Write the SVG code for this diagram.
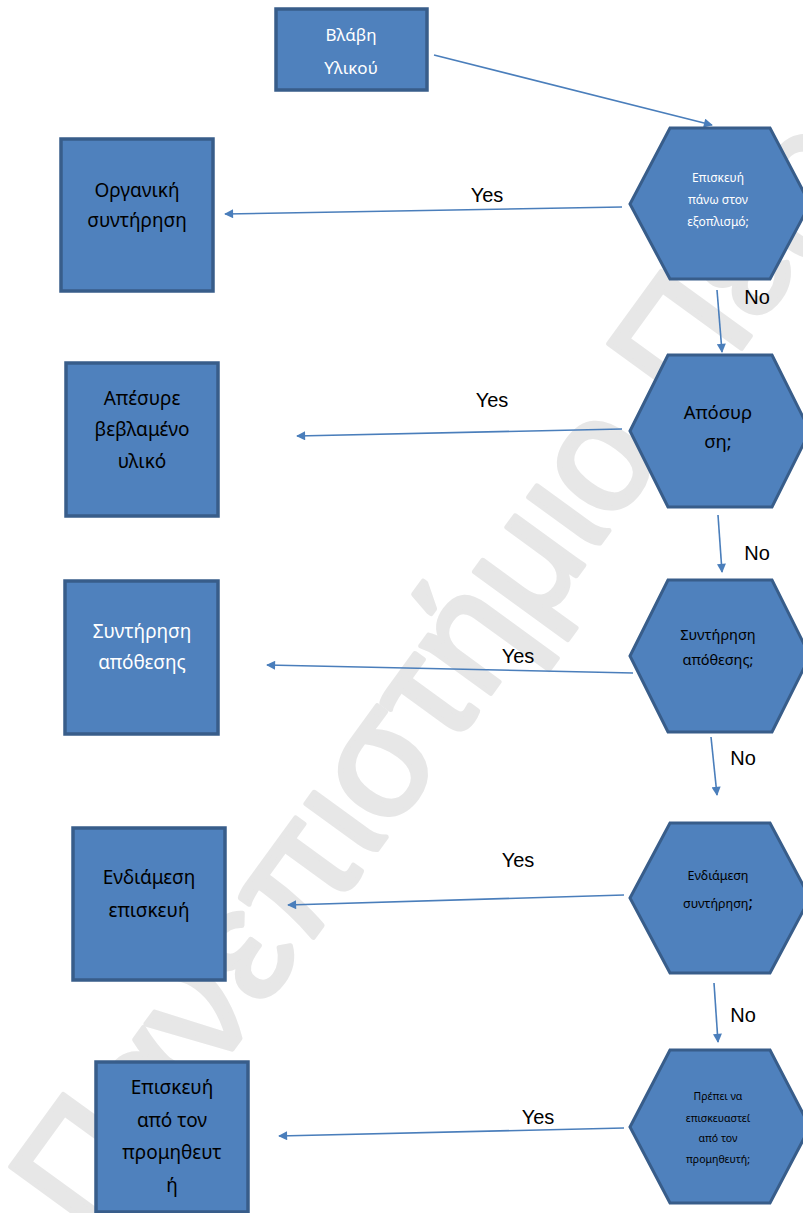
<svg xmlns="http://www.w3.org/2000/svg" width="803" height="1213" viewBox="0 0 803 1213">
  <style>
    .box { fill: #4f81bd; stroke: #385d8a; stroke-width: 3.5; }
    .hex { fill: #4f81bd; stroke: #385d8a; stroke-width: 3; stroke-linejoin: miter; }
    .t { font-family: "Noto Sans", "Open Sans", sans-serif; text-anchor: middle; }
    .dk { fill: #000000; }
    .lt { fill: #ffffff; }
    .lbl { font-family: "Liberation Sans", Arial, sans-serif; font-size: 20px; fill: #000000; text-anchor: middle; }
    .wire { fill: none; stroke: #4a7ebb; stroke-width: 1.6; marker-end: url(#arrow); }
    .mark { font-family: "Liberation Sans", Arial, sans-serif; font-size: 160px; fill: #e7e7e7; stroke: #e7e7e7; stroke-width: 5; stroke-linejoin: round; }
  </style>
  <defs>
    <marker id="arrow" viewBox="0 0 10 10" refX="9" refY="5" markerWidth="10" markerHeight="9" markerUnits="userSpaceOnUse" orient="auto">
      <path d="M0,0 L10,5 L0,10 z" fill="#4a7ebb"/>
    </marker>
  </defs>

  <rect width="803" height="1213" fill="#ffffff"/>

  <!-- background watermark -->
  <text class="mark" transform="translate(92,1242) rotate(-54)">Πανεπιστήμιο Πειραιώς</text>

  <!-- connectors -->
  <g id="connectors">
    <line class="wire" x1="434" y1="55" x2="712" y2="125"/>
    <line class="wire" x1="622" y1="207" x2="225" y2="214"/>
    <line class="wire" x1="717" y1="290" x2="722" y2="352"/>
    <line class="wire" x1="622" y1="429" x2="297" y2="436"/>
    <line class="wire" x1="718" y1="515" x2="722" y2="572"/>
    <line class="wire" x1="633" y1="673" x2="267" y2="665"/>
    <line class="wire" x1="711" y1="737" x2="717" y2="795"/>
    <line class="wire" x1="624" y1="895" x2="288" y2="905"/>
    <line class="wire" x1="714" y1="983" x2="718" y2="1042"/>
    <line class="wire" x1="624" y1="1128" x2="279" y2="1136"/>
    <text class="lbl" x="487" y="202">Yes</text>
    <text class="lbl" x="757" y="304">No</text>
    <text class="lbl" x="492" y="407">Yes</text>
    <text class="lbl" x="757" y="560">No</text>
    <text class="lbl" x="518" y="663">Yes</text>
    <text class="lbl" x="743" y="765">No</text>
    <text class="lbl" x="518" y="867">Yes</text>
    <text class="lbl" x="743" y="1022">No</text>
    <text class="lbl" x="538" y="1124">Yes</text>
  </g>

  <!-- start -->
  <g id="start">
    <rect class="box" x="276" y="9" width="151" height="81"/>
    <text class="t lt" font-size="17" x="351" y="41">Βλάβη</text>
    <text class="t lt" font-size="17" x="351" y="74">Υλικού</text>
  </g>

  <!-- decisions -->
  <g id="q1">
    <polygon class="hex" points="630,204 670,128 770,128 810,204 770,279 670,279"/>
    <text class="t lt" font-size="12" x="718" y="182">Επισκευή</text>
    <text class="t lt" font-size="12" x="718" y="204">πάνω στον</text>
    <text class="t lt" font-size="12" x="718" y="226">εξοπλισμό;</text>
  </g>
  <g id="q2">
    <polygon class="hex" points="630,431 668,355 772,355 810,431 772,507 668,507"/>
    <text class="t dk" font-size="18.5" x="718" y="419">Απόσυρ</text>
    <text class="t dk" font-size="18.5" x="718" y="448">ση;</text>
  </g>
  <g id="q3">
    <polygon class="hex" points="630,656 668,580 772,580 810,656 772,732 668,732"/>
    <text class="t dk" font-size="14.5" x="718" y="640">Συντήρηση</text>
    <text class="t dk" font-size="14.5" x="718" y="665">απόθεσης;</text>
  </g>
  <g id="q4">
    <polygon class="hex" points="630,898 670,823 770,823 810,898 770,973 670,973"/>
    <text class="t dk" font-size="12.5" x="718" y="880">Ενδιάμεση</text>
    <text class="t dk" font-size="12.5" x="718" y="908">συντήρηση<tspan font-size="17">;</tspan></text>
  </g>
  <g id="q5">
    <polygon class="hex" points="630,1127 670,1050 770,1050 810,1127 770,1203 670,1203"/>
    <text class="t dk" font-size="10.5" x="718" y="1100">Πρέπει να</text>
    <text class="t dk" font-size="10.5" x="718" y="1122">επισκευαστεί</text>
    <text class="t dk" font-size="10.5" x="718" y="1142">από τον</text>
    <text class="t dk" font-size="10.5" x="718" y="1163">προμηθευτή;</text>
  </g>

  <!-- outcomes -->
  <g id="organic">
    <rect class="box" x="61" y="139" width="152" height="152"/>
    <text class="t dk" font-size="19" x="137" y="197">Οργανική</text>
    <text class="t dk" font-size="19" x="137" y="227">συντήρηση</text>
  </g>
  <g id="withdraw">
    <rect class="box" x="66" y="363" width="152" height="153"/>
    <text class="t dk" font-size="19" x="142" y="405">Απέσυρε</text>
    <text class="t dk" font-size="19" x="142" y="436">βεβλαμένο</text>
    <text class="t dk" font-size="19" x="142" y="468">υλικό</text>
  </g>
  <g id="storage">
    <rect class="box" x="65" y="581" width="153" height="153"/>
    <text class="t lt" font-size="19" x="142" y="638">Συντήρηση</text>
    <text class="t lt" font-size="19" x="142" y="669">απόθεσης</text>
  </g>
  <g id="interim">
    <rect class="box" x="73" y="828" width="152" height="152"/>
    <text class="t dk" font-size="19" x="149" y="884">Ενδιάμεση</text>
    <text class="t dk" font-size="19" x="149" y="917">επισκευή</text>
  </g>
  <g id="supplier">
    <rect class="box" x="96" y="1062" width="152" height="150"/>
    <text class="t dk" font-size="19" x="172" y="1094">Επισκευή</text>
    <text class="t dk" font-size="19" x="172" y="1127">από τον</text>
    <text class="t dk" font-size="19" x="172" y="1159">προμηθευτ</text>
    <text class="t dk" font-size="19" x="172" y="1192">ή</text>
  </g>
</svg>
